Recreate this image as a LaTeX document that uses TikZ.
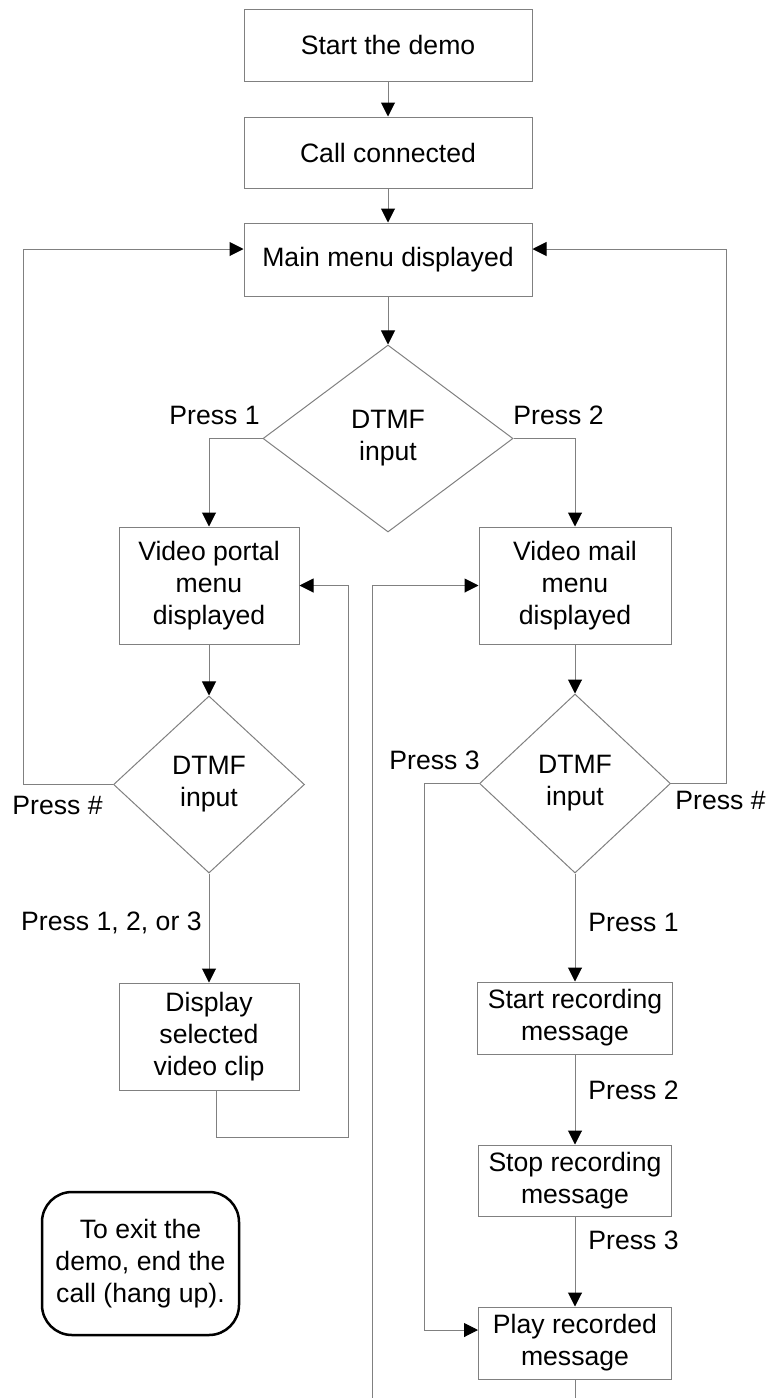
\documentclass[tikz,border=0pt]{standalone}
\usepackage{fontspec}
\setmainfont{Liberation Sans}
\usetikzlibrary{arrows.meta,shapes.geometric}
\definecolor{linegray}{RGB}{128,128,128}

\begin{document}
\begin{tikzpicture}[x=0.5pt,y=-0.5pt,
    font=\fontsize{13.3}{16}\selectfont,
    box/.style={draw=linegray,line width=0.5pt,align=center,inner sep=0pt},
    decision/.style={diamond,draw=linegray,line width=0.5pt,align=center,inner sep=0pt},
    note/.style={draw=black,line width=1.25pt,rounded corners=15pt,align=center,inner sep=0pt},
    lbl/.style={inner sep=0pt},
    arr/.style={draw=linegray,line width=0.5pt,-{Triangle[length=7pt,width=7pt,color=black]}},
    wire/.style={draw=linegray,line width=0.5pt}]
      \useasboundingbox (0,0) rectangle (769,1398);

      % main column
      \node[box,minimum width=144pt,minimum height=36pt] (start) at (388,45) {Start the demo};
      \node[box,minimum width=144pt,minimum height=35.5pt] (call) at (388,152.5) {Call connected};
      \node[box,minimum width=144pt,minimum height=36.5pt] (main) at (388,259.5) {Main menu displayed};
      \node[decision,minimum width=125pt,minimum height=93.5pt] (dtmfa) at (388,438.5) {DTMF\\input};

      % video portal
      \node[box,minimum width=90pt,minimum height=58.5pt] (portal) at (209,585.5) {Video portal\\menu\\displayed};
      \node[decision,minimum width=95.5pt,minimum height=88.5pt] (dtmfb) at (209,784.5) {DTMF\\input};
      \node[box,minimum width=90pt,minimum height=53.5pt] (clip) at (209,1036.5) {Display\\selected\\video clip};

      % video mail
      \node[box,minimum width=96pt,minimum height=58.5pt] (mail) at (575,585.5) {Video mail\\menu\\displayed};
      \node[decision,minimum width=95.5pt,minimum height=89.5pt] (dtmfc) at (575,783.5) {DTMF\\input};
      \node[box,minimum width=97.5pt,minimum height=36pt] (startrec) at (575,1018) {Start recording\\message};
      \node[box,minimum width=96.5pt,minimum height=35.5pt] (stoprec) at (575,1180.5) {Stop recording\\message};
      \node[box,minimum width=96.5pt,minimum height=36pt] (playrec) at (575,1343) {Play recorded\\message};

      \node[note,minimum width=98.5pt,minimum height=71.5pt] (exitnote) at (140.5,1263.5) {To exit the\\demo, end the\\call (hang up).};

      \coordinate (backl) at (23,249);
      \coordinate (backr) at (726,249);
      \coordinate (cliploop) at (348,1137);
      \coordinate (recskip) at (424,1330);
      \coordinate (mailin) at (372,1398);
      \coordinate (playout) at (575,1398);

      \draw[arr] (start) -- (call);
      \draw[arr] (call) -- (main);
      \draw[arr] (main) -- (dtmfa);
      \draw[arr] (dtmfa.west) -| (portal.north);
      \draw[arr] (dtmfa.east) -| (mail.north);
      \draw[arr] (portal) -- (dtmfb);
      \draw[arr] (dtmfb) -- (clip);
      \draw[arr] (mail) -- (dtmfc);
      \draw[arr] (dtmfc) -- (startrec);
      \draw[arr] (startrec) -- (stoprec);
      \draw[arr] (stoprec) -- (playrec);

      % loops back
      \draw[arr] (dtmfb.west) -| (backl) -- (backl -| main.west);
      \draw[arr] (dtmfc.east) -| (backr) -- (backr -| main.east);
      \draw[arr] ([xshift=3.5pt]clip.south) |- (cliploop) |- (portal.east);
      \draw[arr] (dtmfc.west) -| (recskip) -- (recskip -| playrec.west);
      \draw[arr] (mailin) |- (mail.west);
      \draw[wire] (playrec) -- (playout);

      \node[lbl,anchor=east] (pressa) at (260,415) {Press 1};
      \node[lbl,anchor=west] (pressb) at (513,415) {Press 2};
      \node[lbl,anchor=west] (presshl) at (12,805) {Press \#};
      \node[lbl,anchor=east] (pressany) at (202,923) {Press 1, 2, or 3};
      \node[lbl,anchor=east] (presssk) at (480,760) {Press 3};
      \node[lbl,anchor=west] (presshr) at (675,800) {Press \#};
      \node[lbl,anchor=west] (pressrec) at (588,922) {Press 1};
      \node[lbl,anchor=west] (pressstop) at (588,1090) {Press 2};
      \node[lbl,anchor=west] (pressplay) at (588,1240) {Press 3};
\end{tikzpicture}
\end{document}
